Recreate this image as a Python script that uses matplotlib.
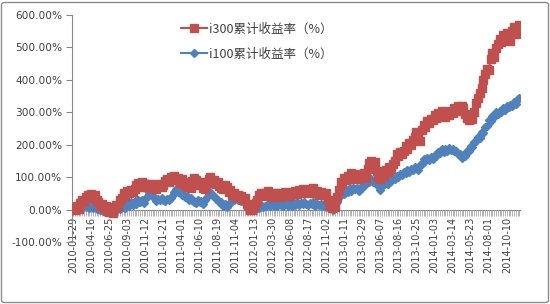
import matplotlib
matplotlib.use("Agg")
import matplotlib.pyplot as plt
from matplotlib.patches import FancyBboxPatch
from matplotlib.ticker import FuncFormatter, MultipleLocator
import numpy as np

plt.rcParams['font.family'] = ['Noto Sans CJK SC', 'DejaVu Sans']

tick_labels = ["2010-01-29", "2010-04-16", "2010-06-25", "2010-09-03", "2010-11-12",
               "2011-01-21", "2011-04-01", "2011-06-10", "2011-08-19", "2011-11-04",
               "2012-01-13", "2012-03-30", "2012-06-08", "2012-08-17", "2012-11-02",
               "2013-01-11", "2013-03-29", "2013-06-07", "2013-08-16", "2013-10-25",
               "2014-01-03", "2014-03-14", "2014-05-23", "2014-08-01", "2014-10-10"]
label_step = 10

series_names = ["i300累计收益率（%）", "i100累计收益率（%）"]

i300 = [5, 0, 10, 3, 20, 28, 22, 40, 45, 35,
        48, 40, 45, 30, 22, 12, 18, 5, 10, -5,
        -8, 5, -10, 8, 15, 10, 28, 35, 50, 42,
        58, 50, 60, 55, 62, 75, 82, 70, 85, 78,
        80, 70, 65, 78, 68, 75, 62, 72, 80, 70,
        75, 88, 95, 85, 100, 92, 102, 90, 98, 82,
        95, 85, 75, 70, 72, 68, 88, 98, 90, 75,
        78, 85, 68, 62, 82, 95, 100, 88, 92, 80,
        85, 72, 68, 62, 75, 70, 55, 60, 45, 50,
        40, 45, 38, 42, 30, 35, 18, 12, 0, -2,
        8, 20, 30, 45, 50, 42, 52, 45, 58, 48,
        40, 48, 52, 42, 50, 38, 48, 55, 45, 52,
        42, 55, 50, 58, 48, 60, 52, 62, 55, 58,
        50, 62, 55, 65, 52, 58, 45, 55, 50, 48,
        52, 30, 12, 5, 10, 8, 40, 60, 85, 78,
        98, 92, 105, 95, 112, 100, 108, 95, 110, 98,
        105, 112, 98, 125, 145, 150, 140, 148, 120, 100,
        95, 110, 105, 122, 115, 130, 125, 142, 150, 170,
        165, 178, 172, 180, 195, 188, 205, 198, 215, 225,
        238, 222, 210, 245, 260, 255, 272, 268, 280, 275,
        292, 282, 298, 288, 305, 292, 285, 300, 292, 305,
        298, 312, 305, 318, 308, 320, 312, 295, 282, 275,
        285, 280, 300, 328, 345, 360, 375, 400, 418, 435,
        430, 465, 482, 470, 498, 512, 525, 518, 538, 528,
        545, 532, 520, 550, 562, 540, 558, 568]

i100 = [0, 3, 6, 2, 10, 5, 12, 8, 14, 6,
        12, 5, 10, 2, 6, -2, 0, -5, -2, -6,
        -8, -2, -6, 2, 0, 6, 2, 8, 12, 6,
        15, 10, 22, 15, 25, 18, 28, 22, 30, 20,
        32, 40, 48, 52, 38, 40, 25, 32, 28, 36,
        30, 25, 34, 30, 36, 42, 55, 62, 55, 58,
        45, 48, 40, 42, 30, 36, 28, 24, 20, 30,
        22, 26, 18, 30, 38, 48, 54, 45, 42, 32,
        30, 22, 24, 12, 16, 8, 18, 20, 32, 28,
        36, 30, 34, 26, 28, 20, 18, 8, 6, 0,
        4, 2, 10, 6, 14, 8, 12, 10, 18, 12,
        16, 10, 18, 12, 20, 14, 10, 16, 20, 12,
        16, 12, 20, 15, 22, 14, 20, 16, 24, 18,
        14, 20, 16, 22, 12, 18, 14, 18, 12, 16,
        8, 12, 4, 6, 0, 12, 22, 42, 45, 58,
        48, 60, 55, 65, 56, 68, 62, 66, 58, 68,
        68, 78, 80, 90, 86, 94, 85, 90, 78, 72,
        60, 72, 78, 82, 80, 90, 88, 98, 95, 105,
        100, 110, 108, 115, 112, 122, 115, 125, 122, 130,
        128, 122, 138, 142, 155, 150, 158, 152, 162, 156,
        168, 165, 178, 175, 186, 176, 188, 182, 190, 184,
        188, 180, 182, 170, 172, 160, 168, 165, 180, 182,
        195, 192, 208, 210, 225, 222, 238, 236, 255, 258,
        275, 272, 288, 285, 300, 296, 305, 302, 312, 308,
        318, 315, 322, 320, 332, 326, 340, 345]

red = "#C0504D"
blue = "#4F81BD"
axis_grey = "#868686"
text_grey = "#404040"

fig = plt.figure(figsize=(5.5, 3.04), dpi=100)
fig.patch.set_facecolor("white")
ax = fig.add_axes([72 / 550, 1 - 242 / 304, (520 - 72) / 550, (242 - 15) / 304])

x = np.arange(len(i300))
l2, = ax.plot(x, i100, color=blue, lw=1.5, marker="D", markersize=4.0,
              markeredgecolor=blue, markerfacecolor=blue, zorder=3)
l1, = ax.plot(x, i300, color=red, lw=1.5, marker="s", markersize=5.7,
              markeredgecolor=red, markerfacecolor=red, zorder=4)

ax.set_xlim(-0.6, len(i300) - 1 + 0.3)
ax.set_ylim(-100, 600)

for s in ["top", "right"]:
    ax.spines[s].set_visible(False)
ax.spines["left"].set_color(axis_grey)
ax.spines["bottom"].set_color(axis_grey)
ax.spines["left"].set_linewidth(0.8)
ax.spines["bottom"].set_linewidth(0.8)
ax.spines["bottom"].set_position(("data", 0))
ax.spines["bottom"].set_zorder(1)

ax.yaxis.set_major_locator(MultipleLocator(100))
ax.yaxis.set_major_formatter(FuncFormatter(lambda v, p: f"{v:.2f}%"))
ax.tick_params(axis="y", direction="out", length=4, width=0.8, color=axis_grey,
               labelsize=7.6, labelcolor=text_grey, pad=3)
for t in ax.get_yticklabels():
    t.set_fontfamily("DejaVu Sans")

major_pos = list(range(0, len(i300), label_step))[:len(tick_labels)]
ax.set_xticks(major_pos)
ax.set_xticklabels(tick_labels, rotation=90, fontsize=7.0, color=text_grey)
for t in ax.get_xticklabels():
    t.set_fontfamily("DejaVu Sans")
ax.set_xticks(x, minor=True)
ax.tick_params(axis="x", which="both", direction="out", length=4, width=0.6,
               color="#A6A6A6", pad=1)

leg = fig.legend([l1, l2], series_names, loc="upper left",
                 bbox_to_anchor=(172 / 550, 1 - 14 / 304), frameon=False,
                 fontsize=9, handlelength=2.1, handletextpad=0.2,
                 labelspacing=0.95, borderpad=0.2)
for t in leg.get_texts():
    t.set_color(text_grey)

frame = FancyBboxPatch((1.5 / 550, 1.5 / 304), 547 / 550, 300 / 304,
                       boxstyle="round,pad=0,rounding_size=0.006",
                       transform=fig.transFigure, fill=False,
                       edgecolor="#8C8C8C", linewidth=1.0)
fig.patches.append(frame)

fig.savefig("out.png", dpi=100)
